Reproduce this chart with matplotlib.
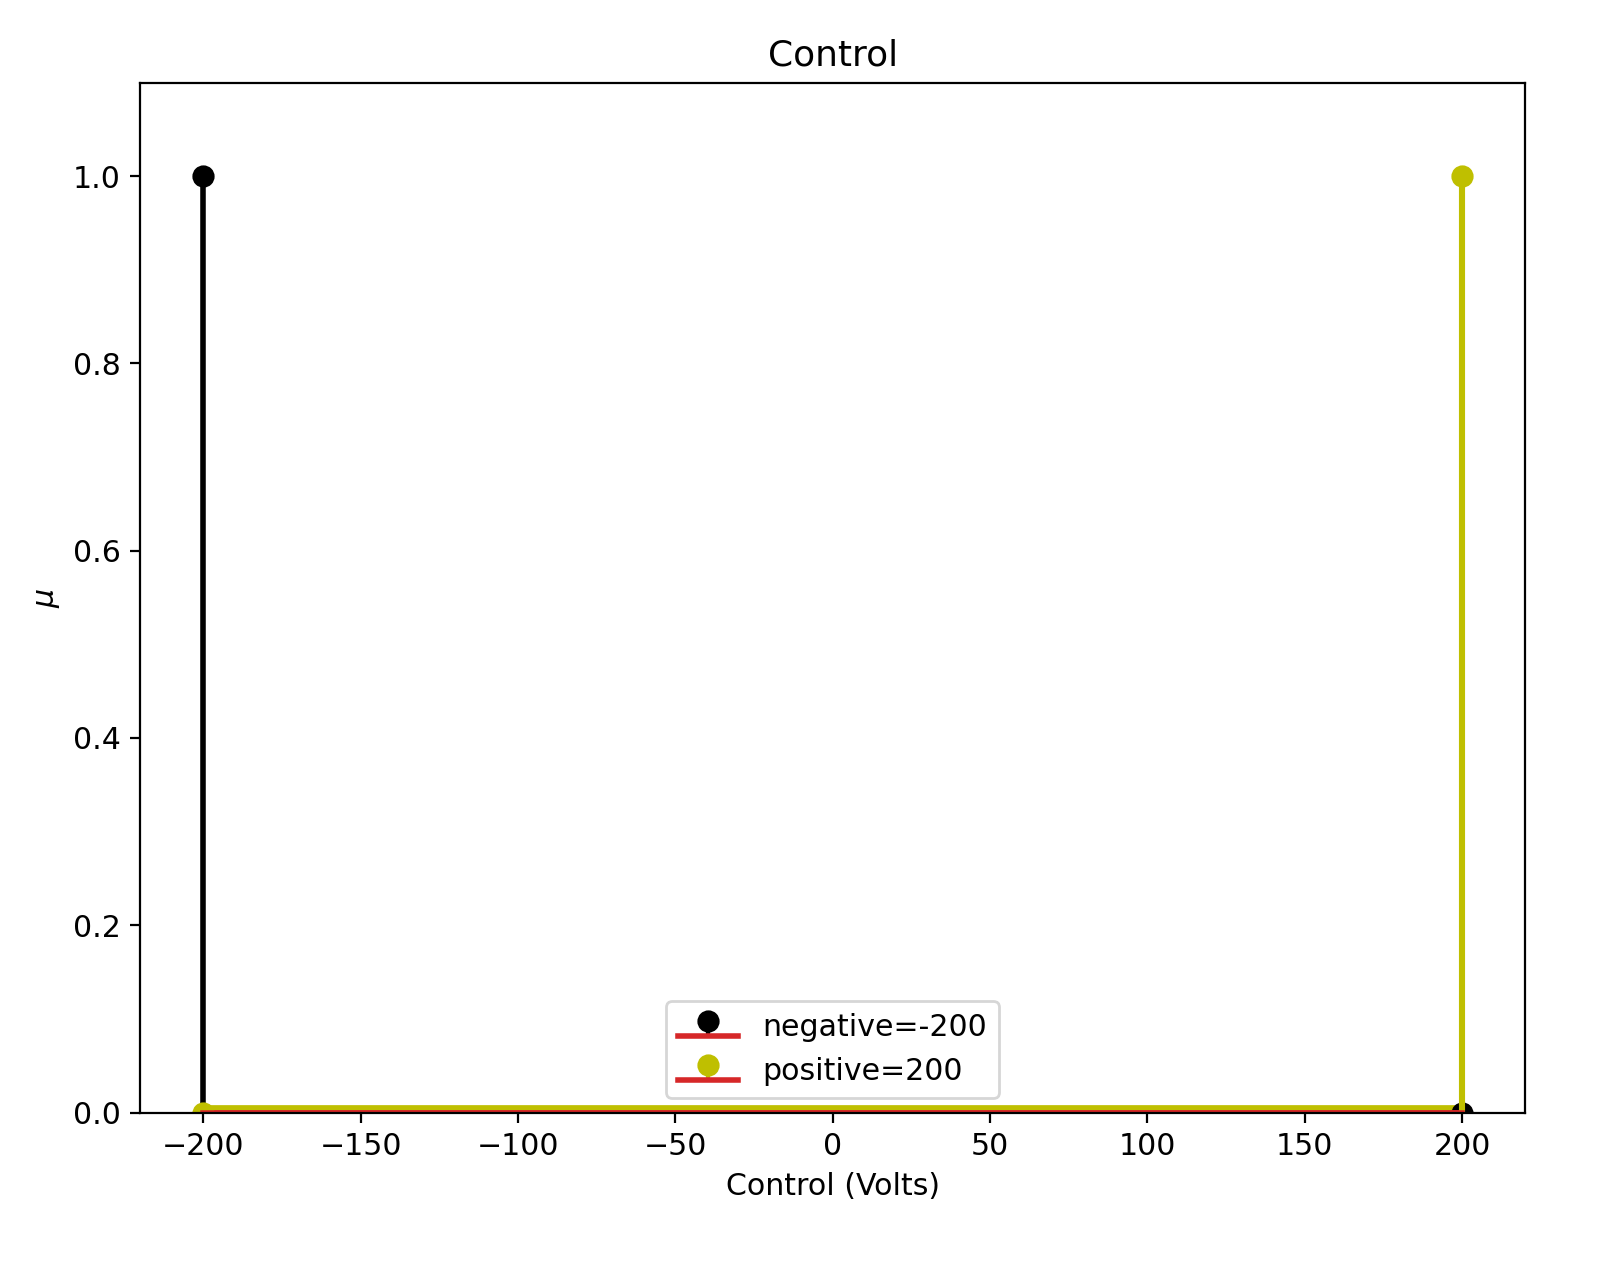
import matplotlib
matplotlib.use("Agg")
import matplotlib.pyplot as plt

x = [-200, 200]
negative = [1, 0]
positive = [0, 1]

plt.rcParams['font.size'] = 10.8
fig, ax = plt.subplots(figsize=(8.06, 6.35), dpi=200)
fig.subplots_adjust(left=0.087, right=0.946, top=0.935, bottom=0.124)

m, s, b = ax.stem(x, negative, linefmt='k-', markerfmt='ko', basefmt='r-', label='negative=-200')
s.set_linewidth(2)
b.set_linewidth(2)
b.set_color('#d62728')
m.set_markersize(7)
m2, s2, b2 = ax.stem(x, positive, linefmt='y-', markerfmt='yo', basefmt='r-', label='positive=200')
s2.set_linewidth(2.2)
b2.set_linewidth(2)
b2.set_color('#d62728')
m2.set_markersize(7)
ax.plot(x, [0.003, 0.003], color='y', lw=3.5, zorder=1.5)

ax.set_ylim(0, 1.1)
ax.set_title('Control')
ax.set_xlabel('Control (Volts)')
ax.set_ylabel(r'$\mu$')
ax.legend(loc='lower center')
fig.savefig('out.png')
